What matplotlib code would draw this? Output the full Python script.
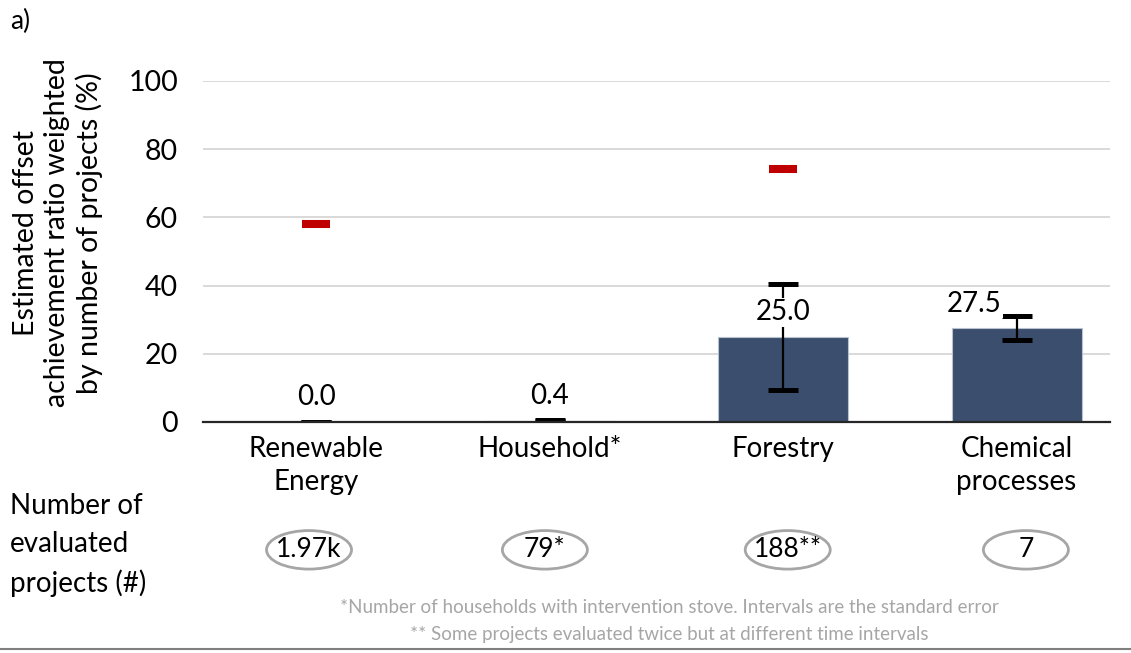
import numpy as np
import matplotlib
matplotlib.use("Agg")
import matplotlib.pyplot as plt
from matplotlib.patches import Ellipse
from matplotlib.transforms import blended_transform_factory

plt.rcParams['font.family'] = ['Lato', 'DejaVu Sans']

categories = ["Renewable\nEnergy", "Household*", "Forestry", "Chemical\nprocesses"]
ratio = [0.0, 0.4, 25.0, 27.5]
std_err = [0.0, 0.2, 15.6, 3.6]
target = [58.0, np.nan, 74.2, np.nan]
n_projects = ["1.97k", "79*", "188**", "7"]
label_dx = [0.0, 0.0, 0.0, -0.18]

bar_color = "#3b4e6d"
x = np.arange(len(categories))

fig = plt.figure(figsize=(11.31, 6.53), dpi=100)
ax = fig.add_axes([0.1795, 0.3538, 0.8019, 0.5222])

ax.bar(x, ratio, width=0.557, color=bar_color, edgecolor="#b8c2d0", linewidth=0.8, zorder=2)
ax.errorbar(x, ratio, yerr=std_err, fmt="none", ecolor="black", elinewidth=1.6,
            capsize=11, capthick=3.6, zorder=3)
ax.plot(x, target, linestyle="none", marker="_", markersize=19.5, mew=5.8,
        color="#c00000", zorder=4)

for xi, v, dx in zip(x, ratio, label_dx):
    ax.text(xi + dx, v + 7.2, f"{v:.1f}", ha="center", va="center", fontsize=20,
            bbox=dict(facecolor="white", edgecolor="none", pad=1), zorder=5)

ax.set_xlim(-0.484, 3.40)
ax.set_ylim(0, 100)
ax.set_yticks([0, 20, 40, 60, 80, 100])
ax.set_xticks(x)
ax.set_xticklabels(categories, fontsize=20, linespacing=1.35)
ax.tick_params(axis="x", length=0, pad=10)
ax.tick_params(axis="y", length=0, labelsize=20.5, pad=18)
ax.grid(axis="y", color="#d9d9d9", linewidth=1.4, zorder=0)
ax.set_axisbelow(True)
for s in ["top", "right", "left"]:
    ax.spines[s].set_visible(False)
ax.spines["bottom"].set_color("#262626")
ax.spines["bottom"].set_linewidth(1.6)
ax.spines["bottom"].set_zorder(6)

ax.set_ylabel("Estimated offset\nachievement ratio weighted\nby number of projects (%)",
              fontsize=20.5, linespacing=1.25)
ax.yaxis.set_label_coords(-0.16, 0.554)
ax.yaxis.label.set_va("center")

# number of evaluated projects row
trans = blended_transform_factory(ax.transData, ax.transAxes)
ell_x = [-0.03, -0.02, 0.02, 0.04]
for xi, dx, lab in zip(x, ell_x, n_projects):
    e = Ellipse((xi + dx, -0.375), width=0.364, height=0.113, transform=trans,
                facecolor="none", edgecolor="#a6a6a6", linewidth=2, clip_on=False)
    ax.add_patch(e)
    ax.text(xi + dx, -0.375, lab, transform=trans, ha="center", va="center", fontsize=19)

fig.text(0.009, 0.245, "Number of\nevaluated\nprojects (#)", fontsize=20, linespacing=1.55,
         va="top")
fig.text(0.009, 0.955, "a)", fontsize=19)

fig.text(0.592, 0.0704, "*Number of households with intervention stove. Intervals are the standard error",
         ha="center", va="center", fontsize=13.5, color="#a6a6a6")
fig.text(0.592, 0.029, "** Some projects evaluated twice but at different time intervals",
         ha="center", va="center", fontsize=13.5, color="#a6a6a6")
fig.add_artist(plt.Line2D([0, 1], [0.006, 0.006], color="#7f7f7f", linewidth=1.5))

fig.savefig("out.png", dpi=100)
